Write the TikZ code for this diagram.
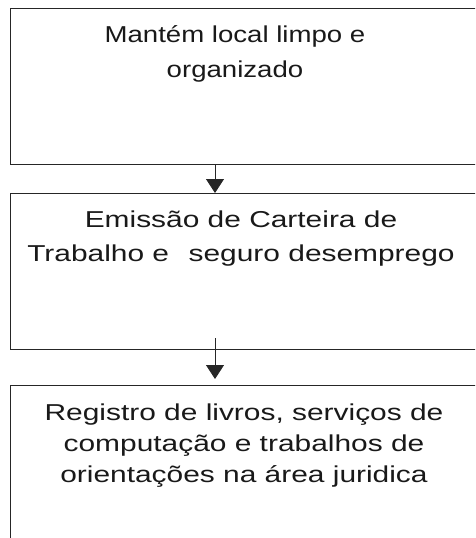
\documentclass[tikz,border=0pt]{standalone}
\usepackage{fontspec}
\newfontfamily\boxfont[FakeStretch=1.3]{Liberation Sans}
\newfontfamily\boxfontnarrow[FakeStretch=1.2]{Liberation Sans}
\usetikzlibrary{arrows.meta}
\begin{document}
\begin{tikzpicture}[x=1pt,y=-1pt,
  boxshape/.style={draw=black!85,line width=0.9pt,rectangle,inner sep=0pt,minimum width=475pt,minimum height=156pt,anchor=north west},
  boxtext/.style={align=center,anchor=base,inner sep=0pt,text=black!90,font={\boxfont\fontsize{23}{34}\selectfont}},
  flow/.style={draw=black!85,line width=0.8pt,-{Triangle[width=18pt,length=14pt]}}]
\useasboundingbox (0,0) rectangle (475,538);
\begin{scope}
\clip (0,0) rectangle (475,538);
\node[boxshape] (b1) at (10,8) {};
\node[boxshape] (b2) at (10,193) {};
\node[boxshape] (b3) at (10,385) {};
\end{scope}
\node[boxtext,font={\boxfontnarrow\fontsize{23}{35}\selectfont}] (t1) at (235,77) {Mantém local limpo e\\organizado};
\node[boxtext] (t2) at (241,261) {Emissão de Carteira de\\Trabalho e\hspace{0.85em}seguro desemprego};
\node[boxtext,font={\boxfont\fontsize{23}{31}\selectfont}] (t3) at (244,482) {Registro de livros, serviços de\\computação e trabalhos de\\orientações na área juridica};
\coordinate (a1s) at (215,164);
\coordinate (a1e) at (215,193);
\coordinate (a2s) at (215,338);
\coordinate (a2e) at (215,379);
\draw[flow] (a1s) -- (a1e);
\draw[flow] (a2s) -- (a2e);
\end{tikzpicture}
\end{document}
